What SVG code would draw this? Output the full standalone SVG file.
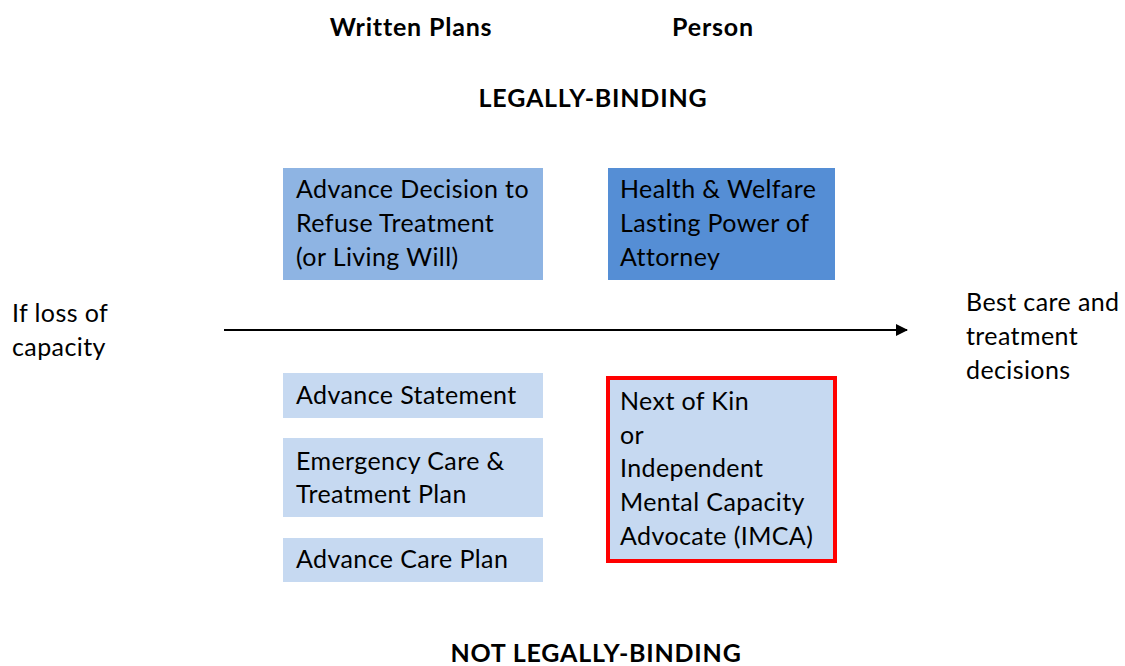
<svg xmlns="http://www.w3.org/2000/svg" width="1125" height="666" viewBox="0 0 1125 666">
  <defs>
    <style>
      text { font-family: Lato, "Open Sans", "Liberation Sans", sans-serif; fill: #000; }
      .hdr { font-size: 25px; font-weight: bold; letter-spacing: 0.8px; }
      .lbl { font-size: 25px; letter-spacing: 0.4px; }
      .mid { text-anchor: middle; }
      .light { fill: #C6D9F1; }
    </style>
    <marker id="arrow" viewBox="0 0 12 12" refX="11" refY="6" markerWidth="12" markerHeight="12" markerUnits="userSpaceOnUse" orient="auto">
      <path d="M0,0 L12,6 L0,12 Z" fill="#000"/>
    </marker>
  </defs>
  <rect width="1125" height="666" fill="#fff"/>

  <!-- column and band headings -->
  <text class="hdr mid" x="411" y="36">Written Plans</text>
  <text class="hdr mid" x="713" y="36">Person</text>
  <text class="hdr mid" x="593" y="107">LEGALLY-BINDING</text>
  <text class="hdr mid" x="596" y="662">NOT LEGALLY-BINDING</text>

  <!-- side labels -->
  <text class="lbl" x="12" y="322">If loss of</text>
  <text class="lbl" x="12" y="356">capacity</text>
  <text class="lbl" x="966" y="311">Best care and</text>
  <text class="lbl" x="966" y="345">treatment</text>
  <text class="lbl" x="966" y="379">decisions</text>

  <!-- connectors -->
  <g id="connectors">
    <line x1="224" y1="330" x2="907" y2="330" stroke="#000" stroke-width="2" marker-end="url(#arrow)"/>
  </g>

  <g id="advance-decision">
    <rect x="283" y="168" width="260" height="112" fill="#8EB4E3"/>
    <text class="lbl" x="296" y="198">Advance Decision to</text>
    <text class="lbl" x="296" y="232">Refuse Treatment</text>
    <text class="lbl" x="296" y="266">(or Living Will)</text>
  </g>

  <g id="lasting-power">
    <rect x="608" y="168" width="227" height="112" fill="#558ED5"/>
    <text class="lbl" x="620" y="198">Health &amp; Welfare</text>
    <text class="lbl" x="620" y="232">Lasting Power of</text>
    <text class="lbl" x="620" y="266">Attorney</text>
  </g>

  <g id="advance-statement">
    <rect class="light" x="283" y="373" width="260" height="45"/>
    <text class="lbl" x="296" y="404">Advance Statement</text>
  </g>

  <g id="emergency-plan">
    <rect class="light" x="283" y="438" width="260" height="79"/>
    <text class="lbl" x="296" y="470">Emergency Care &amp;</text>
    <text class="lbl" x="296" y="503">Treatment Plan</text>
  </g>

  <g id="advance-care-plan">
    <rect class="light" x="283" y="538" width="260" height="44"/>
    <text class="lbl" x="296" y="568">Advance Care Plan</text>
  </g>

  <g id="next-of-kin">
    <rect class="light" x="608" y="378" width="227" height="183" stroke="#FF0000" stroke-width="4"/>
    <text class="lbl" x="620" y="410">Next of Kin</text>
    <text class="lbl" x="620" y="444">or</text>
    <text class="lbl" x="620" y="477">Independent</text>
    <text class="lbl" x="620" y="511">Mental Capacity</text>
    <text class="lbl" x="620" y="545">Advocate (IMCA)</text>
  </g>
</svg>
